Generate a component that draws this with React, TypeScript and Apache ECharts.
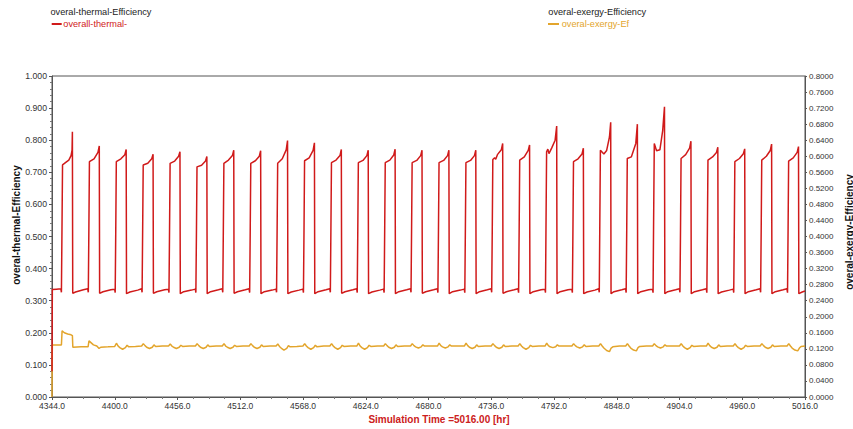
import React, { useEffect, useRef } from "react";
import * as echarts from "echarts";

// ---- axes ----
const X_START = 4344;
const X_END = 5016;
const X_STEP = 56;
const LEFT_MAX = 1.0;
const LEFT_STEP = 0.1;
const RIGHT_MAX = 0.8;
const RIGHT_STEP = 0.04;

// ---- texts ----
const leftLegendTitle = "overal-thermal-Efficiency";
const rightLegendTitle = "overal-exergy-Efficiency";
const thermalName = "overall-thermal-";
const exergyName = "overal-exergy-Ef";
const leftAxisTitle = "overal-thermal-Efficiency";
const rightAxisTitle = "overal-exergy-Efficiency";
const xAxisTitle = "Simulation Time =5016.00 [hr]";

// ---- thermal efficiency (left axis), [hour, value] ----
const thermalWeek1: [number, number][] = [
  [4344, 0.08], [4344.3, 0.335], [4348, 0.336],
  [4351.9, 0.337], [4352.4, 0.326], [4352.9, 0.52], [4353.4, 0.723], [4356, 0.73], [4359, 0.738], [4361, 0.752], [4361.9, 0.769], [4362.2, 0.826], [4362.5, 0.323], [4365, 0.327], [4372, 0.334],
  [4375.9, 0.337], [4376.4, 0.326], [4376.9, 0.52], [4377.4, 0.733], [4381.5, 0.742], [4385, 0.762], [4386.2, 0.782], [4386.5, 0.323], [4389.5, 0.328], [4396.5, 0.334],
  [4399.9, 0.336], [4400.4, 0.325], [4400.9, 0.52], [4401.4, 0.733], [4405.5, 0.742], [4409, 0.755], [4410.2, 0.771], [4410.5, 0.322], [4413.5, 0.327], [4420.5, 0.333],
  [4423.9, 0.337], [4424.4, 0.326], [4424.9, 0.52], [4425.4, 0.723], [4429.5, 0.728], [4433, 0.742], [4434.2, 0.756], [4434.5, 0.323], [4437.5, 0.328], [4444.5, 0.334],
  [4447.9, 0.336], [4448.4, 0.325], [4448.9, 0.52], [4449.4, 0.728], [4453.5, 0.735], [4457, 0.75], [4458.2, 0.764], [4458.5, 0.322], [4461.5, 0.328], [4468.5, 0.333],
  [4471.9, 0.336], [4472.4, 0.325], [4472.9, 0.51], [4473.4, 0.717], [4477.5, 0.722], [4481, 0.735], [4482.2, 0.749], [4482.5, 0.322], [4485.5, 0.328], [4492.5, 0.334],
  [4495.9, 0.337], [4496.4, 0.326], [4496.9, 0.52], [4497.4, 0.728], [4501.5, 0.738], [4505, 0.752], [4506.2, 0.769], [4506.5, 0.323], [4509.5, 0.328], [4516.5, 0.334],
];
const thermalWeek2: [number, number][] = [
  [4519.9, 0.337], [4520.4, 0.325], [4520.9, 0.52], [4521.4, 0.728], [4525.5, 0.736], [4529, 0.75], [4530.2, 0.767], [4530.5, 0.322], [4533.5, 0.328], [4540.5, 0.333],
  [4543.9, 0.336], [4544.4, 0.326], [4544.9, 0.52], [4545.4, 0.728], [4549.5, 0.742], [4553, 0.77], [4554.2, 0.799], [4554.5, 0.322], [4557.5, 0.327], [4564.5, 0.333],
  [4567.9, 0.336], [4568.4, 0.325], [4568.9, 0.52], [4569.4, 0.736], [4573.5, 0.745], [4577, 0.768], [4578.2, 0.792], [4578.5, 0.322], [4581.5, 0.328], [4588.5, 0.334],
  [4591.9, 0.337], [4592.4, 0.326], [4592.9, 0.52], [4593.4, 0.73], [4597.5, 0.738], [4601, 0.752], [4602.2, 0.771], [4602.5, 0.323], [4605.5, 0.328], [4612.5, 0.334],
  [4615.9, 0.337], [4616.4, 0.325], [4616.9, 0.52], [4617.4, 0.73], [4621.5, 0.737], [4625, 0.752], [4626.2, 0.769], [4626.5, 0.322], [4629.5, 0.327], [4636.5, 0.333],
  [4639.9, 0.336], [4640.4, 0.325], [4640.9, 0.52], [4641.4, 0.73], [4645.5, 0.738], [4649, 0.754], [4650.2, 0.772], [4650.5, 0.322], [4653.5, 0.328], [4660.5, 0.334],
  [4663.9, 0.337], [4664.4, 0.326], [4664.9, 0.52], [4665.4, 0.73], [4669.5, 0.737], [4673, 0.752], [4674.2, 0.769], [4674.5, 0.323], [4677.5, 0.328], [4684.5, 0.334],
];
const thermalWeek3: [number, number][] = [
  [4687.9, 0.337], [4688.4, 0.325], [4688.9, 0.52], [4689.4, 0.73], [4693.5, 0.737], [4697, 0.752], [4698.2, 0.769], [4698.5, 0.322], [4701.5, 0.328], [4708.5, 0.333],
  [4711.9, 0.336], [4712.4, 0.325], [4712.9, 0.52], [4713.4, 0.73], [4717.5, 0.737], [4721, 0.752], [4722.2, 0.769], [4722.5, 0.322], [4725.5, 0.328], [4732.5, 0.334],
  [4735.9, 0.337], [4736.4, 0.326], [4736.9, 0.52], [4737.4, 0.74], [4739, 0.745], [4740, 0.741], [4741.5, 0.755], [4745, 0.77], [4746.2, 0.79], [4746.5, 0.323], [4749.5, 0.328], [4756.5, 0.334],
  [4759.9, 0.337], [4760.4, 0.325], [4760.9, 0.52], [4761.4, 0.738], [4765.5, 0.748], [4769, 0.768], [4770.2, 0.785], [4770.5, 0.322], [4773.5, 0.328], [4780.5, 0.334],
  [4783.9, 0.336], [4784.4, 0.325], [4784.9, 0.55], [4785.4, 0.764], [4786.5, 0.772], [4787.5, 0.758], [4790, 0.776], [4793, 0.8], [4794.4, 0.844], [4794.7, 0.322], [4797.5, 0.328], [4804.5, 0.334],
  [4807.9, 0.336], [4808.4, 0.325], [4808.9, 0.52], [4809.4, 0.733], [4813.5, 0.742], [4817, 0.757], [4818.2, 0.775], [4818.5, 0.322], [4821.5, 0.327], [4828.5, 0.333],
  [4831.9, 0.337], [4832.4, 0.326], [4832.9, 0.55], [4833.4, 0.769], [4836.5, 0.757], [4839, 0.768], [4841.5, 0.81], [4842.6, 0.856], [4842.9, 0.322], [4845.5, 0.328], [4852.5, 0.334],
];
const thermalWeek4: [number, number][] = [
  [4855.9, 0.337], [4856.4, 0.325], [4856.9, 0.52], [4857.4, 0.743], [4861, 0.748], [4865, 0.79], [4866.4, 0.85], [4866.7, 0.322], [4869.5, 0.328], [4876.5, 0.334],
  [4879.9, 0.336], [4880.4, 0.325], [4880.9, 0.55], [4881.5, 0.79], [4883.5, 0.767], [4886.5, 0.77], [4889, 0.83], [4890.6, 0.904], [4890.9, 0.322], [4893.5, 0.328], [4900.5, 0.334],
  [4903.9, 0.337], [4904.4, 0.326], [4904.9, 0.52], [4905.4, 0.743], [4909.5, 0.755], [4913, 0.775], [4914.2, 0.797], [4914.5, 0.322], [4917.5, 0.328], [4924.5, 0.334],
  [4927.9, 0.337], [4928.4, 0.325], [4928.9, 0.52], [4929.4, 0.738], [4933.5, 0.748], [4937, 0.762], [4938.2, 0.778], [4938.5, 0.322], [4941.5, 0.327], [4948.5, 0.333],
  [4951.9, 0.336], [4952.4, 0.325], [4952.9, 0.52], [4953.4, 0.733], [4957.5, 0.743], [4961, 0.758], [4962.2, 0.773], [4962.5, 0.322], [4965.5, 0.328], [4972.5, 0.334],
  [4975.9, 0.337], [4976.4, 0.326], [4976.9, 0.52], [4977.4, 0.738], [4981.5, 0.75], [4985, 0.768], [4986.2, 0.788], [4986.5, 0.322], [4989.5, 0.328], [4996.5, 0.334],
  [4999.9, 0.337], [5000.4, 0.325], [5000.9, 0.52], [5001.4, 0.735], [5005.5, 0.745], [5009, 0.762], [5010.2, 0.78], [5010.5, 0.322], [5013.5, 0.327], [5016, 0.33],
];

// ---- exergy efficiency (right axis), [hour, value] ----
const exergyWeek1: [number, number][] = [
  [4344, 0], [4344.1, 0.063], [4344.3, 0.1296], [4352.4, 0.1296], [4353, 0.165], [4355, 0.16], [4358, 0.157], [4361, 0.155], [4362.2, 0.153], [4362.6, 0.124], [4370, 0.125], [4376.2, 0.125],
  [4377, 0.14], [4379, 0.135], [4381, 0.13], [4384, 0.127], [4386, 0.121], [4387.5, 0.124], [4394, 0.125],
  [4400, 0.126], [4401.5, 0.134], [4403, 0.127], [4404.5, 0.123], [4407, 0.119], [4409.5, 0.123], [4411, 0.129], [4412.5, 0.125], [4418.5, 0.126],
  [4424, 0.127], [4425.5, 0.133], [4427, 0.128], [4428.5, 0.124], [4431, 0.121], [4433.5, 0.124], [4435, 0.13], [4436.5, 0.126], [4442.5, 0.127],
  [4448, 0.127], [4449.5, 0.132], [4451, 0.127], [4452.5, 0.124], [4455, 0.121], [4457.5, 0.124], [4459, 0.129], [4460.5, 0.126], [4466.5, 0.127],
  [4472, 0.127], [4473.5, 0.133], [4475, 0.128], [4476.5, 0.124], [4479, 0.121], [4481.5, 0.124], [4483, 0.13], [4484.5, 0.126], [4490.5, 0.127],
  [4496, 0.127], [4497.5, 0.133], [4499, 0.127], [4500.5, 0.124], [4503, 0.121], [4505.5, 0.124], [4507, 0.129], [4508.5, 0.126], [4514.5, 0.127],
];
const exergyWeek2: [number, number][] = [
  [4520, 0.127], [4521.5, 0.133], [4523, 0.128], [4524.5, 0.124], [4527, 0.121], [4529.5, 0.124], [4531, 0.13], [4532.5, 0.126], [4538.5, 0.127],
  [4544, 0.127], [4545.5, 0.132], [4547, 0.126], [4548.5, 0.122], [4551, 0.117], [4553.5, 0.121], [4555, 0.128], [4556.5, 0.125], [4562.5, 0.126],
  [4568, 0.127], [4569.5, 0.133], [4571, 0.127], [4572.5, 0.123], [4575, 0.119], [4577.5, 0.123], [4579, 0.129], [4580.5, 0.125], [4586.5, 0.127],
  [4592, 0.127], [4593.5, 0.133], [4595, 0.127], [4596.5, 0.123], [4599, 0.119], [4601.5, 0.123], [4603, 0.129], [4604.5, 0.126], [4610.5, 0.127],
  [4616, 0.127], [4617.5, 0.134], [4619, 0.127], [4620.5, 0.123], [4623, 0.119], [4625.5, 0.123], [4627, 0.129], [4628.5, 0.126], [4634.5, 0.127],
  [4640, 0.127], [4641.5, 0.133], [4643, 0.128], [4644.5, 0.124], [4647, 0.121], [4649.5, 0.124], [4651, 0.13], [4652.5, 0.126], [4658.5, 0.127],
  [4664, 0.127], [4665.5, 0.133], [4667, 0.128], [4668.5, 0.125], [4671, 0.122], [4673.5, 0.125], [4675, 0.13], [4676.5, 0.127], [4682.5, 0.127],
];
const exergyWeek3: [number, number][] = [
  [4688, 0.127], [4689.5, 0.134], [4691, 0.128], [4692.5, 0.125], [4695, 0.122], [4697.5, 0.125], [4699, 0.13], [4700.5, 0.127], [4706.5, 0.127],
  [4712, 0.127], [4713.5, 0.134], [4715, 0.128], [4716.5, 0.124], [4719, 0.121], [4721.5, 0.124], [4723, 0.13], [4724.5, 0.126], [4730.5, 0.127],
  [4736, 0.127], [4737.5, 0.133], [4739, 0.128], [4740.5, 0.124], [4743, 0.121], [4745.5, 0.124], [4747, 0.13], [4748.5, 0.126], [4754.5, 0.127],
  [4760, 0.127], [4761.5, 0.133], [4763, 0.127], [4764.5, 0.123], [4767, 0.119], [4769.5, 0.123], [4771, 0.129], [4772.5, 0.126], [4778.5, 0.127],
  [4784, 0.127], [4785.5, 0.134], [4787, 0.128], [4788.5, 0.125], [4791, 0.123], [4793.5, 0.125], [4795, 0.13], [4796.5, 0.127], [4802.5, 0.127],
  [4808, 0.127], [4809.5, 0.133], [4811, 0.128], [4812.5, 0.125], [4815, 0.122], [4817.5, 0.125], [4819, 0.13], [4820.5, 0.126], [4826.5, 0.127],
  [4832, 0.127], [4833.5, 0.133], [4835, 0.127], [4836.5, 0.122], [4839, 0.116], [4841.5, 0.113], [4843, 0.122], [4844.5, 0.125], [4850.5, 0.127],
];
const exergyWeek4: [number, number][] = [
  [4856, 0.127], [4857.5, 0.133], [4859, 0.127], [4860.5, 0.122], [4863, 0.117], [4865.5, 0.115], [4867, 0.123], [4868.5, 0.126], [4874.5, 0.127],
  [4880, 0.127], [4881.5, 0.133], [4883, 0.128], [4884.5, 0.125], [4887, 0.122], [4889.5, 0.125], [4891, 0.13], [4892.5, 0.127], [4898.5, 0.127],
  [4904, 0.127], [4905.5, 0.133], [4907, 0.127], [4908.5, 0.123], [4911, 0.119], [4913.5, 0.123], [4915, 0.129], [4916.5, 0.126], [4922.5, 0.127],
  [4928, 0.127], [4929.5, 0.134], [4931, 0.128], [4932.5, 0.124], [4935, 0.121], [4937.5, 0.124], [4939, 0.13], [4940.5, 0.126], [4946.5, 0.127],
  [4952, 0.127], [4953.5, 0.133], [4955, 0.127], [4956.5, 0.123], [4959, 0.119], [4961.5, 0.123], [4963, 0.129], [4964.5, 0.126], [4970.5, 0.127],
  [4976, 0.127], [4977.5, 0.133], [4979, 0.128], [4980.5, 0.124], [4983, 0.121], [4985.5, 0.124], [4987, 0.13], [4988.5, 0.126], [4994.5, 0.127],
  [5000, 0.127], [5001.5, 0.133], [5003, 0.127], [5004.5, 0.122], [5007, 0.117], [5009.5, 0.115], [5011, 0.122], [5012.5, 0.126], [5016, 0.127],
];

const RED = "#d01a1a";
const ORANGE = "#e3a52c";
const FONT = "'Liberation Sans', Arial, sans-serif";

const toSeries = (arr: [number, number][]) => arr.map(([h, v]) => [h - X_START, v]);

export default function App() {
  const ref = useRef<HTMLDivElement>(null);

  useEffect(() => {
    if (!ref.current) return;
    const chart = echarts.init(ref.current, null, { renderer: "svg" });

    const thermal = [...thermalWeek1, ...thermalWeek2, ...thermalWeek3, ...thermalWeek4];
    const exergy = [...exergyWeek1, ...exergyWeek2, ...exergyWeek3, ...exergyWeek4];

    chart.setOption({
      animation: false,
      backgroundColor: "#ffffff",
      textStyle: { fontFamily: FONT },
      grid: {
        left: 52,
        right: 48,
        top: 76,
        bottom: 32,
        containLabel: false,
        outerBoundsMode: "none",
        show: true,
        borderColor: "#555",
        borderWidth: 1,
        backgroundColor: "transparent",
      },
      xAxis: {
        type: "value",
        min: 0,
        max: X_END - X_START,
        interval: X_STEP,
        axisLine: { show: true, lineStyle: { color: "#555", width: 1 } },
        axisTick: { show: true, length: 3, lineStyle: { color: "#555" } },
        minorTick: { show: true, splitNumber: 4, length: 2, lineStyle: { color: "#777" } },
        splitLine: { show: false },
        minorSplitLine: { show: false },
        axisLabel: {
          margin: 4,
          fontSize: 8.5,
          color: "#333",
          fontFamily: FONT,
          showMinLabel: true,
          showMaxLabel: true,
          formatter: (v: number) => (v + X_START).toFixed(1),
        },
      },
      yAxis: [
        {
          type: "value",
          position: "left",
          min: 0,
          max: LEFT_MAX,
          interval: LEFT_STEP,
          axisLine: { show: true, lineStyle: { color: "#555", width: 1 } },
          axisTick: { show: true, length: 3, lineStyle: { color: "#555" } },
          minorTick: { show: true, splitNumber: 5, length: 2, lineStyle: { color: "#777" } },
          splitLine: { show: false },
          axisLabel: {
            margin: 5,
            fontSize: 8.7,
            color: "#333",
            fontFamily: FONT,
            formatter: (v: number) => v.toFixed(3),
          },
        },
        {
          type: "value",
          position: "right",
          min: 0,
          max: RIGHT_MAX,
          interval: RIGHT_STEP,
          axisLine: { show: true, lineStyle: { color: "#555", width: 1 } },
          axisTick: { show: true, length: 2, lineStyle: { color: "#555" } },
          splitLine: { show: false },
          axisLabel: {
            margin: 4,
            fontSize: 8,
            color: "#333",
            fontFamily: FONT,
            formatter: (v: number) => v.toFixed(4),
          },
        },
      ],
      series: [
        {
          name: exergyName,
          type: "line",
          yAxisIndex: 1,
          showSymbol: false,
          symbol: "none",
          lineStyle: { color: ORANGE, width: 1.5 },
          itemStyle: { color: ORANGE },
          data: toSeries(exergy),
        },
        {
          name: thermalName,
          type: "line",
          yAxisIndex: 0,
          showSymbol: false,
          symbol: "none",
          lineStyle: { color: RED, width: 1.5 },
          itemStyle: { color: RED },
          data: toSeries(thermal),
        },
      ],
      graphic: [
        {
          type: "text",
          x: 50.5,
          y: 11.7,
          style: { text: leftLegendTitle, font: `9.2px ${FONT}`, fill: "#222", textVerticalAlign: "middle", verticalAlign: "middle" },
        },
        { type: "line", shape: { x1: 51.7, y1: 24, x2: 61.7, y2: 24 }, style: { stroke: RED, lineWidth: 2 } },
        {
          type: "text",
          x: 63.3,
          y: 24,
          style: { text: thermalName, font: `9.2px ${FONT}`, fill: RED, verticalAlign: "middle" },
        },
        {
          type: "text",
          x: 548.3,
          y: 11.7,
          style: { text: rightLegendTitle, font: `9.2px ${FONT}`, fill: "#222", verticalAlign: "middle" },
        },
        { type: "line", shape: { x1: 548, y1: 24, x2: 559, y2: 24 }, style: { stroke: ORANGE, lineWidth: 2 } },
        {
          type: "text",
          x: 561.7,
          y: 24,
          style: { text: exergyName, font: `9.2px ${FONT}`, fill: ORANGE, verticalAlign: "middle" },
        },
        {
          type: "text",
          x: 16,
          y: 225,
          rotation: Math.PI / 2,
          style: { text: leftAxisTitle, font: `bold 10px ${FONT}`, fill: "#111", align: "center", verticalAlign: "middle" },
        },
        {
          type: "text",
          x: 849,
          y: 232,
          rotation: Math.PI / 2,
          style: { text: rightAxisTitle, font: `bold 10px ${FONT}`, fill: "#111", align: "center", verticalAlign: "middle" },
        },
        {
          type: "text",
          x: 439,
          y: 419,
          style: { text: xAxisTitle, font: `bold 10px ${FONT}`, fill: "#cc2020", align: "center", verticalAlign: "middle" },
        },
      ],
    });

    return () => chart.dispose();
  }, []);

  return (
    <div
      ref={ref}
      style={{ position: "fixed", left: 0, top: 0, width: 853, height: 429, background: "#fff" }}
    />
  );
}
